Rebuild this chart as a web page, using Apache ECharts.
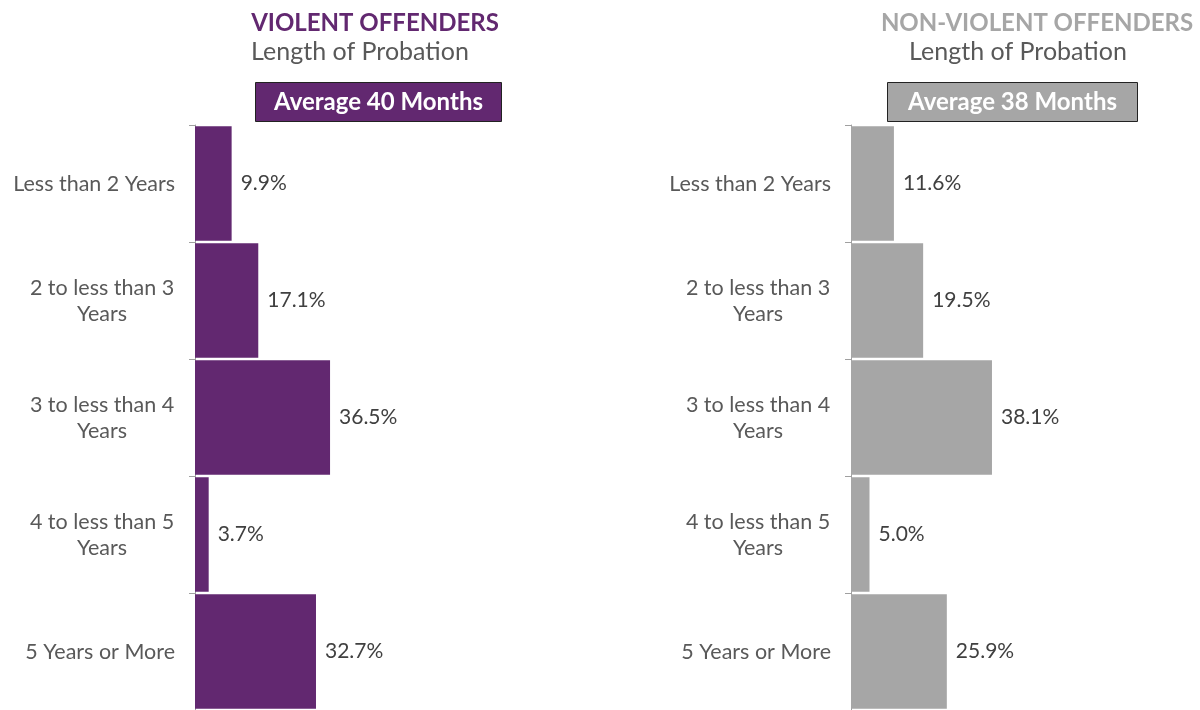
<!DOCTYPE html>
<html>
<head>
<meta charset="utf-8">
<script src="https://cdn.jsdelivr.net/npm/echarts@6/dist/echarts.min.js"></script>
<style>
  html, body { margin: 0; padding: 0; background: #fff; }
  #chart { width: 1200px; height: 710px; }
</style>
</head>
<body>
<div id="chart"></div>
<script>
// probation length categories, top to bottom
const categories = [
  'Less than 2 Years',
  '2 to less than 3 Years',
  '3 to less than 4 Years',
  '4 to less than 5 Years',
  '5 Years or More'
]
// share of offenders (%)
const violentValues = [9.9, 17.1, 36.5, 3.7, 32.7]
const nonViolentValues = [11.6, 19.5, 38.1, 5.0, 25.9]
const violentAverage = 40
const nonViolentAverage = 38

const purple = '#622870'
const gray = '#a6a6a6'
const textGray = '#595959'
const font = 'Lato, "Open Sans", sans-serif'

// break "x to less than y Years" into two centred lines
const catLabel = function (name) {
  let idx = name.lastIndexOf(' Years')
  if (name.indexOf(' to ') > 0 && idx > 0) {
    return '{c|' + name.slice(0, idx) + '}\n{c|Years}'
  }
  return '{s|' + name + '}'
}

const makeAxes = function (gridIndex) {
  return {
    x: {
      type: 'value', gridIndex: gridIndex, min: 0, max: 50, show: false
    },
    y: {
      type: 'category',
      gridIndex: gridIndex,
      data: categories,
      inverse: true,
      axisLine: { show: true, lineStyle: { color: '#a0a0a0', width: 1 } },
      axisTick: { show: true, length: 6, lineStyle: { color: '#a0a0a0' } },
      axisLabel: {
        margin: 20,
        formatter: catLabel,
        rich: {
          c: { fontFamily: font, fontSize: 21.5, color: textGray, width: 146, align: 'center', lineHeight: 26, padding: [2, 0, 0, 0] },
          s: { fontFamily: font, fontSize: 21.5, color: textGray, padding: [2, 0, 0, 0] }
        }
      }
    }
  }
}

const left = makeAxes(0)
const right = makeAxes(1)

const barSeries = function (idx, values, color) {
  return {
    type: 'bar',
    xAxisIndex: idx,
    yAxisIndex: idx,
    data: values,
    barCategoryGap: '2%',
    itemStyle: { color: color },
    label: {
      show: true,
      position: 'right',
      distance: 9,
      fontFamily: font,
      fontSize: 21,
      color: '#404040',
      padding: [2, 0, 0, 0],
      formatter: function (p) { return p.value.toFixed(1) + '%' }
    },
    silent: true
  }
}

let myChart = echarts.init(document.getElementById('chart'))
let option = {
  animation: false,
  backgroundColor: '#fff',
  title: [
    {
      text: 'VIOLENT OFFENDERS',
      left: 370, top: 6, textAlign: 'center',
      textStyle: { fontFamily: font, fontSize: 24, fontWeight: 'bold', color: purple }
    },
    {
      text: 'Length of Probation',
      left: 355, top: 34, textAlign: 'center',
      textStyle: { fontFamily: font, fontSize: 25, fontWeight: 'normal', color: textGray }
    },
    {
      text: 'Average ' + violentAverage + ' Months',
      left: 255, top: 82,
      padding: [8, 19, 8, 19],
      backgroundColor: purple,
      borderColor: '#222',
      borderWidth: 1,
      textStyle: { fontFamily: font, fontSize: 24, fontWeight: 'bold', color: '#fff' }
    },
    {
      text: 'NON-VIOLENT OFFENDERS',
      left: 1032, top: 6, textAlign: 'center',
      textStyle: { fontFamily: font, fontSize: 24, fontWeight: 'bold', color: gray }
    },
    {
      text: 'Length of Probation',
      left: 1013, top: 34, textAlign: 'center',
      textStyle: { fontFamily: font, fontSize: 25, fontWeight: 'normal', color: textGray }
    },
    {
      text: 'Average ' + nonViolentAverage + ' Months',
      left: 887, top: 82,
      padding: [8, 21, 8, 21],
      backgroundColor: gray,
      borderColor: '#222',
      borderWidth: 1,
      textStyle: { fontFamily: font, fontSize: 24, fontWeight: 'bold', color: '#fff' }
    }
  ],
  grid: [
    { left: 195, top: 125, width: 185, height: 585 },
    { left: 851, top: 125, width: 185, height: 585 }
  ],
  xAxis: [left.x, right.x],
  yAxis: [left.y, right.y],
  series: [
    barSeries(0, violentValues, purple),
    barSeries(1, nonViolentValues, gray)
  ]
}
myChart.setOption(option)
</script>
</body>
</html>
